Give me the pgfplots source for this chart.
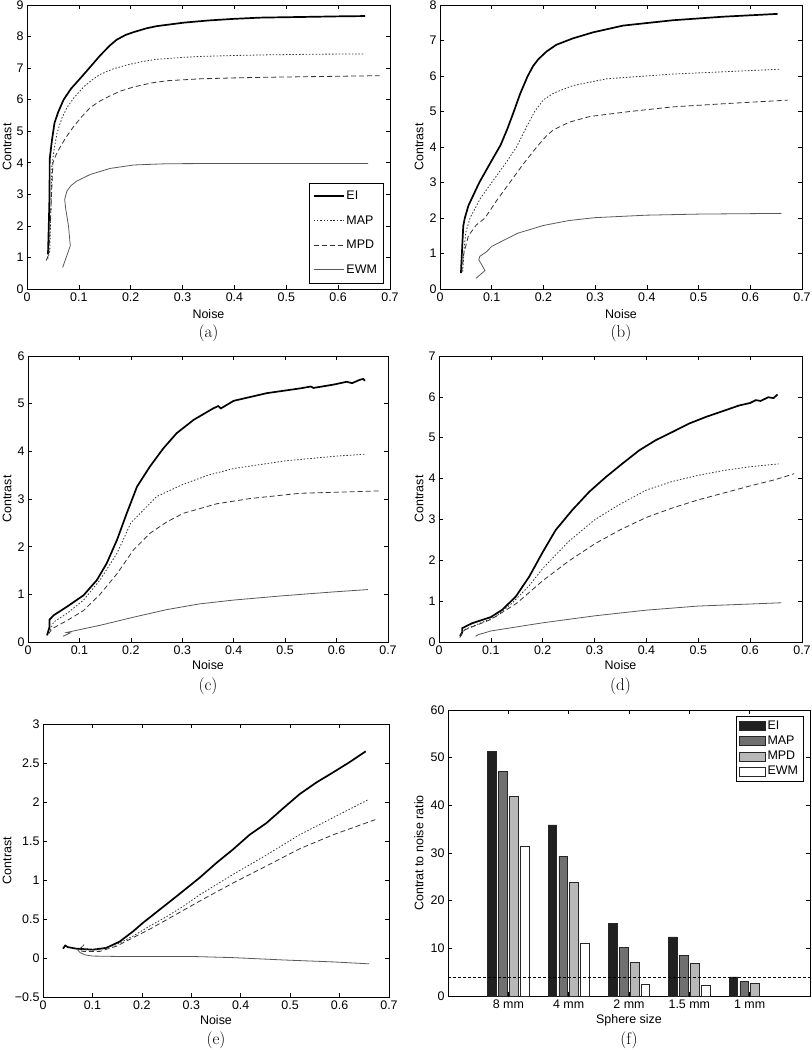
\documentclass[border=0pt]{standalone}
\usepackage{fontspec}
\setsansfont{Liberation Sans}
\usepackage{pgfplots}
\pgfplotsset{compat=1.18}
\definecolor{cEI}{HTML}{202020}
\definecolor{cMAP}{HTML}{707070}
\definecolor{cMPD}{HTML}{B8B8B8}
\pgfplotsset{
  EI/.style={black, line width=1.7bp},
  MAP/.style={black!80, line width=0.8bp, dash pattern=on 1.5bp off 1.8bp},
  MPD/.style={black!80, line width=0.8bp, dash pattern=on 5bp off 3bp},
  EWM/.style={black!65, line width=0.8bp},
  base/.style={scale only axis, anchor=north west,
    tick label style={font=\fontsize{12.5}{14}\sffamily},
    label style={font=\fontsize{12.5}{14}\sffamily},
    /pgf/number format/assume math mode=true,
    major tick length=4bp, tick align=inside,
    axis line style={line width=0.6bp},
    every tick/.style={black, line width=0.6bp},
    no markers, clip=false},
  noise/.style={base, xmin=0, xmax=0.7, xtick={0,0.1,0.2,0.3,0.4,0.5,0.6,0.7},
    xlabel={Noise}, ylabel={Contrast}},
  labpos/.style n args={3}{
    xlabel style={at={(axis description cs:0.5,#2)}, anchor=center},
    ylabel style={at={(axis description cs:#1,0.5)}, anchor=center, rotate=0}},
}
\newcommand\capt[2]{\node[font=\fontsize{17}{17}\selectfont\rmfamily] at (axis description cs:0.5,#1) {#2};}
\begin{document}
\begin{tikzpicture}
\useasboundingbox (0,0) rectangle (812bp,-1050bp);
% (a)
\begin{axis}[noise, at={(27bp,-5bp)}, width=363bp, height=284bp,
  ymin=0, ymax=9, ytick={0,1,...,9}, labpos={-0.055}{-0.088}{0},
  legend style={at={(0.981,0.021)}, anchor=south east, draw=black, fill=white,
    font=\fontsize{12.5}{14}\sffamily, row sep=10.5bp, inner xsep=4bp, inner ysep=6bp},
  legend cell align=left,
  legend image code/.code={\draw[#1] (0bp,0bp) -- (30bp,0bp);}]
\addplot[EI] coordinates {(0.0405,1.1) (0.042,2.0) (0.0435,3.0) (0.0437,4.1) (0.048,4.7) (0.053,5.26) (0.06,5.6) (0.0706,6.0) (0.085,6.35) (0.103,6.68) (0.12,7.0) (0.141,7.4) (0.16,7.72) (0.173,7.9) (0.19,8.05) (0.2055,8.14) (0.23,8.26) (0.25,8.33) (0.302,8.44) (0.35,8.51) (0.398,8.56) (0.45,8.6) (0.527,8.62) (0.6,8.64) (0.652,8.65)};
\addlegendentry{EI}
\addplot[MAP] coordinates {(0.040,0.95) (0.044,1.2) (0.046,2.5) (0.048,3.9) (0.052,4.4) (0.058,4.95) (0.067,5.4) (0.077,5.75) (0.09,6.05) (0.109,6.4) (0.125,6.62) (0.141,6.8) (0.165,6.97) (0.193,7.1) (0.22,7.2) (0.25,7.28) (0.3,7.34) (0.334,7.37) (0.4,7.4) (0.462,7.42) (0.55,7.44) (0.652,7.45)};
\addlegendentry{MAP}
\addplot[MPD] coordinates {(0.037,0.9) (0.042,1.1) (0.046,2.5) (0.05,4.0) (0.056,4.25) (0.064,4.5) (0.075,4.8) (0.09,5.15) (0.105,5.45) (0.122,5.75) (0.14,5.95) (0.16,6.12) (0.18,6.27) (0.205,6.4) (0.24,6.53) (0.27,6.6) (0.334,6.66) (0.4,6.69) (0.462,6.71) (0.55,6.73) (0.68,6.76)};
\addlegendentry{MPD}
\addplot[EWM] coordinates {(0.0687,0.68) (0.0835,1.37) (0.080,2.0) (0.075,2.5) (0.0726,2.84) (0.077,3.1) (0.085,3.28) (0.096,3.42) (0.122,3.63) (0.16,3.82) (0.2055,3.93) (0.27,3.97) (0.4,3.98) (0.658,3.98)};
\addlegendentry{EWM}
\capt{-0.155}{(a)}
\end{axis}
% (b)
\begin{axis}[noise, at={(440bp,-5bp)}, width=362bp, height=284bp,
  ymin=0, ymax=8, ytick={0,1,...,8}, labpos={-0.058}{-0.088}{0}]
\addplot[EI] coordinates {(0.0405,0.45) (0.043,1.2) (0.045,1.78) (0.048,2.0) (0.055,2.35) (0.076,3.0) (0.1,3.62) (0.117,4.05) (0.13,4.5) (0.1415,4.95) (0.155,5.5) (0.169,5.98) (0.18,6.28) (0.19,6.47) (0.206,6.69) (0.225,6.88) (0.257,7.06) (0.296,7.23) (0.354,7.42) (0.45,7.57) (0.547,7.67) (0.653,7.75)};
\addplot[MAP] coordinates {(0.044,0.49) (0.047,1.2) (0.05,1.6) (0.058,2.0) (0.078,2.55) (0.1,3.0) (0.125,3.5) (0.148,4.0) (0.165,4.5) (0.183,5.0) (0.2,5.33) (0.22,5.52) (0.257,5.73) (0.322,5.92) (0.444,6.05) (0.55,6.12) (0.656,6.19)};
\addplot[MPD] coordinates {(0.042,0.47) (0.046,1.0) (0.055,1.5) (0.07,1.8) (0.087,2.0) (0.11,2.5) (0.135,3.0) (0.16,3.5) (0.187,4.0) (0.205,4.3) (0.219,4.48) (0.25,4.7) (0.29,4.86) (0.367,5.0) (0.45,5.13) (0.55,5.22) (0.672,5.32)};
\addplot[EWM] coordinates {(0.0695,0.3) (0.087,0.52) (0.080,0.7) (0.075,0.82) (0.077,0.92) (0.09,1.05) (0.1,1.2) (0.15,1.57) (0.2,1.79) (0.25,1.93) (0.3,2.01) (0.4,2.08) (0.5,2.11) (0.66,2.13)};
\capt{-0.155}{(b)}
\end{axis}
% (c)
\begin{axis}[noise, at={(28bp,-356bp)}, width=360bp, height=286bp,
  ymin=0, ymax=6, ytick={0,1,...,6}, labpos={-0.058}{-0.080}{0}]
\addplot[EI] coordinates {(0.037,0.14) (0.042,0.32) (0.042,0.47) (0.0498,0.56) (0.0757,0.74) (0.108,0.98) (0.134,1.30) (0.153,1.65) (0.173,2.14) (0.192,2.7) (0.212,3.26) (0.237,3.68) (0.263,4.06) (0.289,4.38) (0.322,4.66) (0.36,4.9) (0.37,4.95) (0.375,4.9) (0.4,5.06) (0.464,5.22) (0.529,5.32) (0.55,5.36) (0.555,5.33) (0.594,5.4) (0.62,5.46) (0.63,5.43) (0.645,5.5) (0.652,5.52) (0.655,5.48)};
\addplot[MAP] coordinates {(0.043,0.25) (0.05,0.42) (0.076,0.6) (0.108,0.88) (0.14,1.3) (0.173,1.86) (0.2,2.5) (0.25,3.05) (0.3,3.3) (0.35,3.5) (0.4,3.64) (0.5,3.8) (0.6,3.9) (0.655,3.94)};
\addplot[MPD] coordinates {(0.04,0.17) (0.047,0.28) (0.076,0.45) (0.108,0.66) (0.14,1.0) (0.173,1.43) (0.205,1.93) (0.237,2.28) (0.27,2.52) (0.302,2.7) (0.367,2.9) (0.432,3.01) (0.529,3.12) (0.684,3.17)};
\addplot[EWM] coordinates {(0.068,0.12) (0.082,0.19) (0.075,0.2) (0.14,0.35) (0.205,0.52) (0.27,0.68) (0.334,0.8) (0.4,0.88) (0.496,0.97) (0.593,1.05) (0.661,1.1)};
\capt{-0.154}{(c)}
\end{axis}
% (d)
\begin{axis}[noise, at={(439bp,-356bp)}, width=363bp, height=286bp,
  ymin=0, ymax=7, ytick={0,1,...,7}, labpos={-0.055}{-0.080}{0}]
\addplot[EI] coordinates {(0.0405,0.14) (0.045,0.25) (0.045,0.34) (0.064,0.46) (0.1,0.61) (0.122,0.79) (0.148,1.11) (0.174,1.6) (0.2,2.2) (0.225,2.74) (0.257,3.23) (0.29,3.68) (0.322,4.04) (0.354,4.37) (0.386,4.69) (0.418,4.94) (0.45,5.14) (0.483,5.35) (0.515,5.51) (0.547,5.65) (0.579,5.79) (0.6,5.85) (0.611,5.92) (0.62,5.9) (0.635,5.99) (0.645,5.97) (0.653,6.06)};
\addplot[MAP] coordinates {(0.042,0.18) (0.048,0.3) (0.077,0.45) (0.109,0.62) (0.141,0.95) (0.174,1.38) (0.2,1.8) (0.25,2.46) (0.3,2.99) (0.35,3.38) (0.4,3.72) (0.45,3.93) (0.5,4.08) (0.55,4.2) (0.6,4.29) (0.655,4.36)};
\addplot[MPD] coordinates {(0.04,0.11) (0.047,0.25) (0.05,0.3) (0.1,0.55) (0.15,0.95) (0.2,1.5) (0.25,1.98) (0.3,2.4) (0.35,2.75) (0.4,3.05) (0.45,3.28) (0.5,3.48) (0.55,3.65) (0.6,3.82) (0.65,3.98) (0.685,4.12)};
\addplot[EWM] coordinates {(0.0707,0.14) (0.076,0.18) (0.1,0.27) (0.2,0.47) (0.3,0.64) (0.4,0.78) (0.5,0.88) (0.6,0.93) (0.66,0.96)};
\capt{-0.154}{(d)}
\end{axis}
% (e)
\begin{axis}[noise, at={(43bp,-724bp)}, width=346bp, height=273bp,
  ymin=-0.5, ymax=3, ytick={-0.5,0,0.5,1,1.5,2,2.5,3},
  yticklabels={−0.5,0,0.5,1,1.5,2,2.5,3}, labpos={-0.104}{-0.084}{0}]
\addplot[EI] coordinates {(0.0405,0.12) (0.045,0.16) (0.05,0.14) (0.067,0.12) (0.101,0.107) (0.128,0.13) (0.155,0.21) (0.182,0.34) (0.202,0.45) (0.236,0.62) (0.27,0.79) (0.317,1.03) (0.351,1.22) (0.384,1.39) (0.418,1.58) (0.452,1.73) (0.486,1.92) (0.519,2.1) (0.553,2.25) (0.587,2.38) (0.62,2.51) (0.653,2.65)};
\addplot[MAP] coordinates {(0.083,0.17) (0.073,0.11) (0.081,0.107) (0.115,0.107) (0.148,0.17) (0.182,0.28) (0.216,0.41) (0.25,0.53) (0.283,0.66) (0.317,0.81) (0.384,1.07) (0.452,1.32) (0.519,1.58) (0.587,1.8) (0.658,2.03)};
\addplot[MPD] coordinates {(0.08,0.15) (0.072,0.1) (0.081,0.085) (0.115,0.085) (0.148,0.15) (0.182,0.26) (0.216,0.37) (0.25,0.49) (0.317,0.73) (0.384,0.96) (0.452,1.18) (0.519,1.4) (0.587,1.58) (0.675,1.78)};
\addplot[EWM] coordinates {(0.068,0.12) (0.075,0.07) (0.085,0.04) (0.1,0.025) (0.15,0.02) (0.3,0.02) (0.384,0.005) (0.486,-0.025) (0.587,-0.05) (0.66,-0.075)};
\capt{-0.158}{(e)}
\end{axis}
% (f)
\begin{axis}[base, at={(448bp,-710bp)}, width=362bp, height=286bp,
  xmin=0, xmax=6, xtick={1,2,3,4,5}, xticklabels={8 mm,4 mm,2 mm,1.5 mm,1 mm},
  ymin=0, ymax=60, ytick={0,10,...,60},
  xlabel={Sphere size}, ylabel={Contrat to noise ratio}, labpos={-0.080}{-0.084}{0},
  legend style={at={(0.981,0.979)}, anchor=north east, draw=black, fill=white,
    font=\fontsize{12.5}{14}\sffamily, row sep=1bp, inner xsep=3bp, inner ysep=3bp},
  legend cell align=left,
  legend image code/.code={\draw[#1] (0bp,-4.5bp) rectangle (26bp,4.5bp);}]
\addplot[ybar, bar width=0.145, bar shift=-0.27, fill=cEI, draw=black!85, line width=0.6bp] coordinates {(1,51.4) (2,35.9) (3,15.3) (4,12.4) (5,4.0)};
\addlegendentry{EI}
\addplot[ybar, bar width=0.145, bar shift=-0.09, fill=cMAP, draw=black!85, line width=0.6bp] coordinates {(1,47.2) (2,29.3) (3,10.2) (4,8.6) (5,3.0)};
\addlegendentry{MAP}
\addplot[ybar, bar width=0.145, bar shift=0.09, fill=cMPD, draw=black!85, line width=0.6bp] coordinates {(1,41.9) (2,23.9) (3,7.1) (4,6.9) (5,2.6)};
\addlegendentry{MPD}
\addplot[ybar, bar width=0.145, bar shift=0.27, fill=white, draw=black!85, line width=0.6bp] coordinates {(1,31.5) (2,11.0) (3,2.45) (4,2.2)};
\addlegendentry{EWM}
\addplot[forget plot, black, line width=0.8bp, dash pattern=on 3bp off 2bp] coordinates {(0,4) (6,4)};
\capt{-0.154}{(f)}
\end{axis}
\end{tikzpicture}
\end{document}
